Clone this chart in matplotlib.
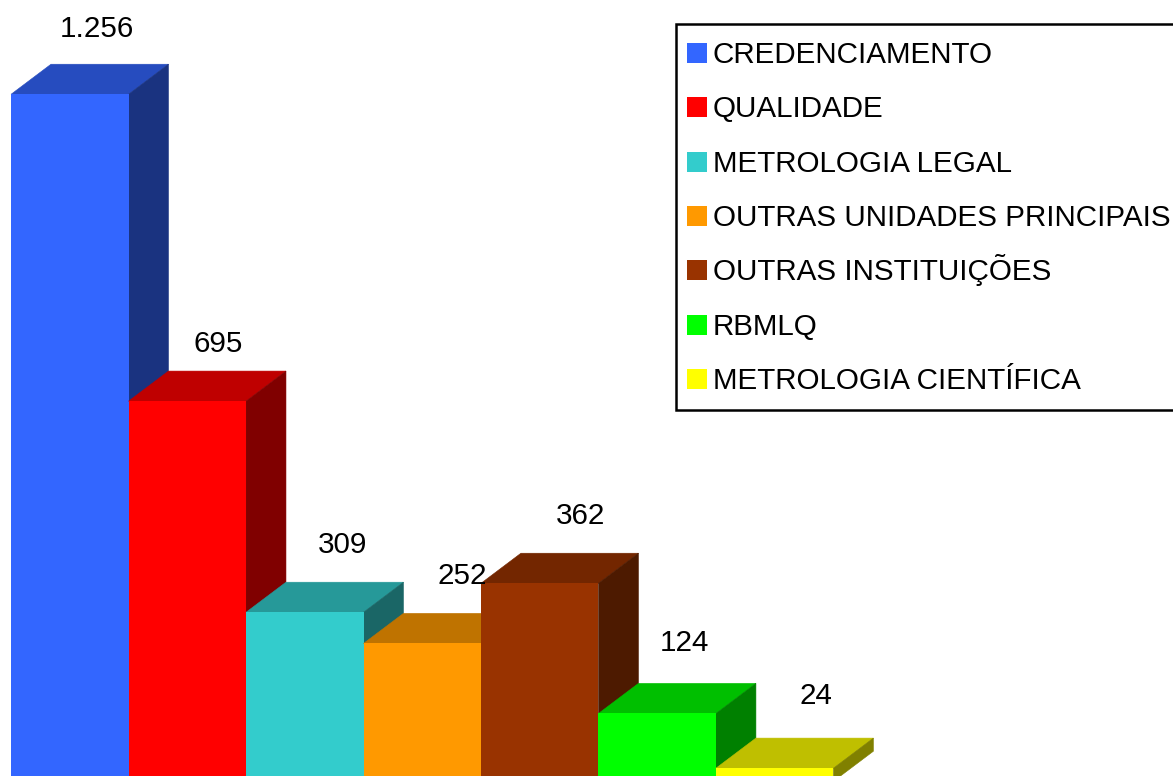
import matplotlib
matplotlib.use('Agg')
import matplotlib.pyplot as plt
from matplotlib.patches import Polygon, Rectangle

plt.rcParams['font.family'] = ['Liberation Sans', 'DejaVu Sans']

categories = ['CREDENCIAMENTO', 'QUALIDADE', 'METROLOGIA LEGAL', 'OUTRAS UNIDADES PRINCIPAIS',
              'OUTRAS INSTITUIÇÕES', 'RBMLQ', 'METROLOGIA CIENTÍFICA']
values = [1256, 695, 309, 252, 362, 124, 24]
labels = ['1.256', '695', '309', '252', '362', '124', '24']
front = ['#3366FF', '#FF0000', '#33CCCC', '#FF9900', '#993300', '#00FF00', '#FFFF00']
top = ['#264CBF', '#BF0000', '#269999', '#BF7300', '#732600', '#00BF00', '#BFBF00']
side = ['#1A3380', '#800000', '#1A6666', '#804D00', '#4D1A00', '#008000', '#808000']

# label offsets from the top centre of each bar, in pixels
label_dx = [27, 30.5, 38, 39.5, 41, 27.5, 41]
label_dy = [65.5, 57.5, 67.5, 67.5, 67.5, 70.5, 72.5]

fig = plt.figure(figsize=(11.73, 7.76), dpi=100)
ax = fig.add_axes([0, 0, 1, 1])
ax.set_xlim(-0.594, 9.39)
ax.set_ylim(9.7, 1428.4)
ax.axis('off')

# 3d depth of the bars in data units
dx = 0.34
dy = 55
for i, v in enumerate(values):
    l, r = i - 0.5, i + 0.5
    ax.add_patch(Polygon([(l, v), (r, v), (r + dx, v + dy), (l + dx, v + dy)],
                         closed=True, fc=top[i], ec=top[i], lw=0.4, zorder=2 + 2 * i))
    ax.add_patch(Polygon([(r, 0), (r + dx, dy), (r + dx, v + dy), (r, v)],
                         closed=True, fc=side[i], ec=side[i], lw=0.4, zorder=2 + 2 * i))
    ax.bar(i, v, width=1, color=front[i], linewidth=0, antialiased=False, zorder=3 + 2 * i)
    ax.annotate(labels[i], (i, v), xytext=(label_dx[i], label_dy[i]), textcoords='offset pixels',
                ha='center', va='center', fontsize=21.3, color='black', zorder=20)

# legend box, laid out in pixels
leg = fig.add_axes([0, 0, 1, 1], zorder=5)
leg.set_xlim(0, 1173)
leg.set_ylim(776, 0)
leg.axis('off')
leg.add_patch(Rectangle((676, 24), 510, 386, fc='white', ec='black', lw=1.8))
for i, name in enumerate(categories):
    base = 63 + i * 54.33
    leg.add_patch(Rectangle((687, base - 20), 20, 20, fc=front[i], ec='none'))
    leg.text(713, base, name, ha='left', va='baseline', fontsize=21.3, color='black')

fig.savefig('out.png', dpi=100)
